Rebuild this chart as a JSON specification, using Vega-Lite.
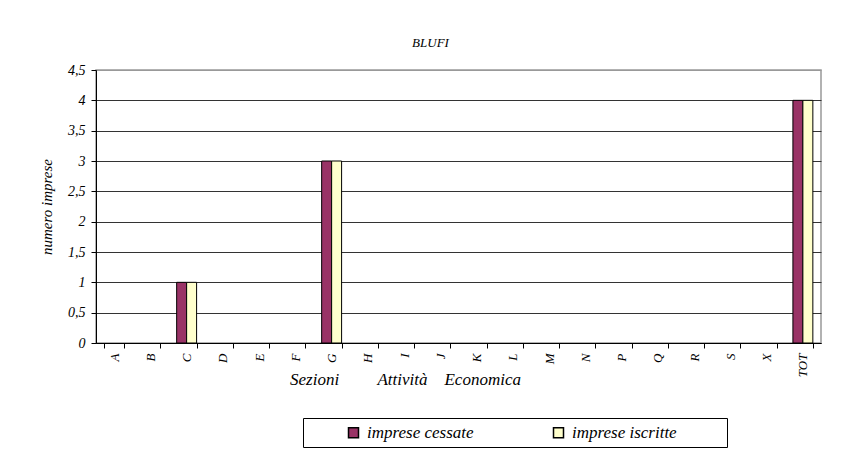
{
  "$schema": "https://vega.github.io/schema/vega-lite/v6.json",
  "autosize": "none",
  "width": 725,
  "height": 273,
  "padding": {"left": 96, "top": 70, "right": 20, "bottom": 110},
  "background": "white",
  "title": {"text": "BLUFI", "font": "Liberation Serif", "fontStyle": "italic", "fontWeight": "normal", "fontSize": 13, "color": "black", "offset": 13, "dx": -28},
  "data": {"values": [
    {"sez": "A", "serie": "imprese cessate", "n": 0}, {"sez": "A", "serie": "imprese iscritte", "n": 0},
    {"sez": "B", "serie": "imprese cessate", "n": 0}, {"sez": "B", "serie": "imprese iscritte", "n": 0},
    {"sez": "C", "serie": "imprese cessate", "n": 1}, {"sez": "C", "serie": "imprese iscritte", "n": 1},
    {"sez": "D", "serie": "imprese cessate", "n": 0}, {"sez": "D", "serie": "imprese iscritte", "n": 0},
    {"sez": "E", "serie": "imprese cessate", "n": 0}, {"sez": "E", "serie": "imprese iscritte", "n": 0},
    {"sez": "F", "serie": "imprese cessate", "n": 0}, {"sez": "F", "serie": "imprese iscritte", "n": 0},
    {"sez": "G", "serie": "imprese cessate", "n": 3}, {"sez": "G", "serie": "imprese iscritte", "n": 3},
    {"sez": "H", "serie": "imprese cessate", "n": 0}, {"sez": "H", "serie": "imprese iscritte", "n": 0},
    {"sez": "I", "serie": "imprese cessate", "n": 0}, {"sez": "I", "serie": "imprese iscritte", "n": 0},
    {"sez": "J", "serie": "imprese cessate", "n": 0}, {"sez": "J", "serie": "imprese iscritte", "n": 0},
    {"sez": "K", "serie": "imprese cessate", "n": 0}, {"sez": "K", "serie": "imprese iscritte", "n": 0},
    {"sez": "L", "serie": "imprese cessate", "n": 0}, {"sez": "L", "serie": "imprese iscritte", "n": 0},
    {"sez": "M", "serie": "imprese cessate", "n": 0}, {"sez": "M", "serie": "imprese iscritte", "n": 0},
    {"sez": "N", "serie": "imprese cessate", "n": 0}, {"sez": "N", "serie": "imprese iscritte", "n": 0},
    {"sez": "P", "serie": "imprese cessate", "n": 0}, {"sez": "P", "serie": "imprese iscritte", "n": 0},
    {"sez": "Q", "serie": "imprese cessate", "n": 0}, {"sez": "Q", "serie": "imprese iscritte", "n": 0},
    {"sez": "R", "serie": "imprese cessate", "n": 0}, {"sez": "R", "serie": "imprese iscritte", "n": 0},
    {"sez": "S", "serie": "imprese cessate", "n": 0}, {"sez": "S", "serie": "imprese iscritte", "n": 0},
    {"sez": "X", "serie": "imprese cessate", "n": 0}, {"sez": "X", "serie": "imprese iscritte", "n": 0},
    {"sez": "TOT", "serie": "imprese cessate", "n": 4}, {"sez": "TOT", "serie": "imprese iscritte", "n": 4}
  ]},
  "mark": {"type": "bar", "stroke": "black", "strokeWidth": 1},
  "encoding": {
    "x": {
      "field": "sez", "type": "nominal", "sort": null,
      "scale": {"paddingInner": 0.45, "paddingOuter": 0.225},
      "axis": {
        "title": "Sezioni\u00a0\u00a0\u00a0\u00a0\u00a0\u00a0\u00a0\u00a0\u00a0Attività\u00a0\u00a0\u00a0\u00a0Economica",
        "titleFont": "Liberation Serif", "titleFontStyle": "italic", "titleFontWeight": "normal", "titleFontSize": 17, "titleColor": "black",
        "titleX": 309, "titleY": 28, "titleAlign": "center", "titleBaseline": "top",
        "labelAngle": 270, "labelFont": "Liberation Serif", "labelFontStyle": "italic", "labelFontSize": 13, "labelColor": "black", "labelPadding": 5,
        "tickBand": "extent", "tickColor": "black", "tickSize": 5, "domainColor": "black", "grid": false
      }
    },
    "xOffset": {"field": "serie", "type": "nominal", "scale": {"paddingInner": 0, "paddingOuter": 0}},
    "y": {
      "field": "n", "type": "quantitative",
      "scale": {"domain": [0, 4.5], "nice": false},
      "axis": {
        "title": "numero imprese", "values": [0, 0.5, 1, 1.5, 2, 2.5, 3, 3.5, 4, 4.5],
        "labelExpr": "replace(format(datum.value, '~g'), '.', ',')",
        "titleFont": "Liberation Serif", "titleFontStyle": "italic", "titleFontWeight": "normal", "titleFontSize": 15, "titleColor": "black", "titlePadding": 13,
        "labelFont": "Liberation Serif", "labelFontStyle": "italic", "labelFontSize": 14, "labelColor": "black", "labelPadding": 6,
        "tickColor": "black", "tickSize": 5, "domainColor": "black",
        "grid": true, "gridColor": {"condition": {"test": "datum.value == 4.5", "value": "#999999"}, "value": "#333333"}, "gridOpacity": 1
      }
    },
    "strokeWidth": {"condition": {"test": "datum.n == 0", "value": 0}, "value": 1},
    "fill": {
      "field": "serie", "type": "nominal",
      "scale": {"domain": ["imprese cessate", "imprese iscritte"], "range": ["#993366", "#FFFFCC"]},
      "legend": {
        "orient": "none", "legendX": 207, "legendY": 348, "direction": "horizontal",
        "title": "\u00a0", "titleOrient": "right", "titlePadding": 44, "titleFontSize": 14,
        "padding": 6, "strokeColor": "black", "fillColor": "white",
        "symbolType": "square", "symbolSize": 100, "symbolStrokeColor": "black", "symbolStrokeWidth": 1.5,
        "symbolOffset": 36, "labelOffset": 5,
        "labelFont": "Liberation Serif", "labelFontStyle": "italic", "labelFontSize": 17, "labelColor": "black",
        "columnPadding": 40, "labelLimit": 400
      }
    }
  },
  "config": {
    "font": "Liberation Serif",
    "view": {"stroke": "#999999", "strokeWidth": 1.5},
    "axis": {"labelLimit": 300}
  }
}
